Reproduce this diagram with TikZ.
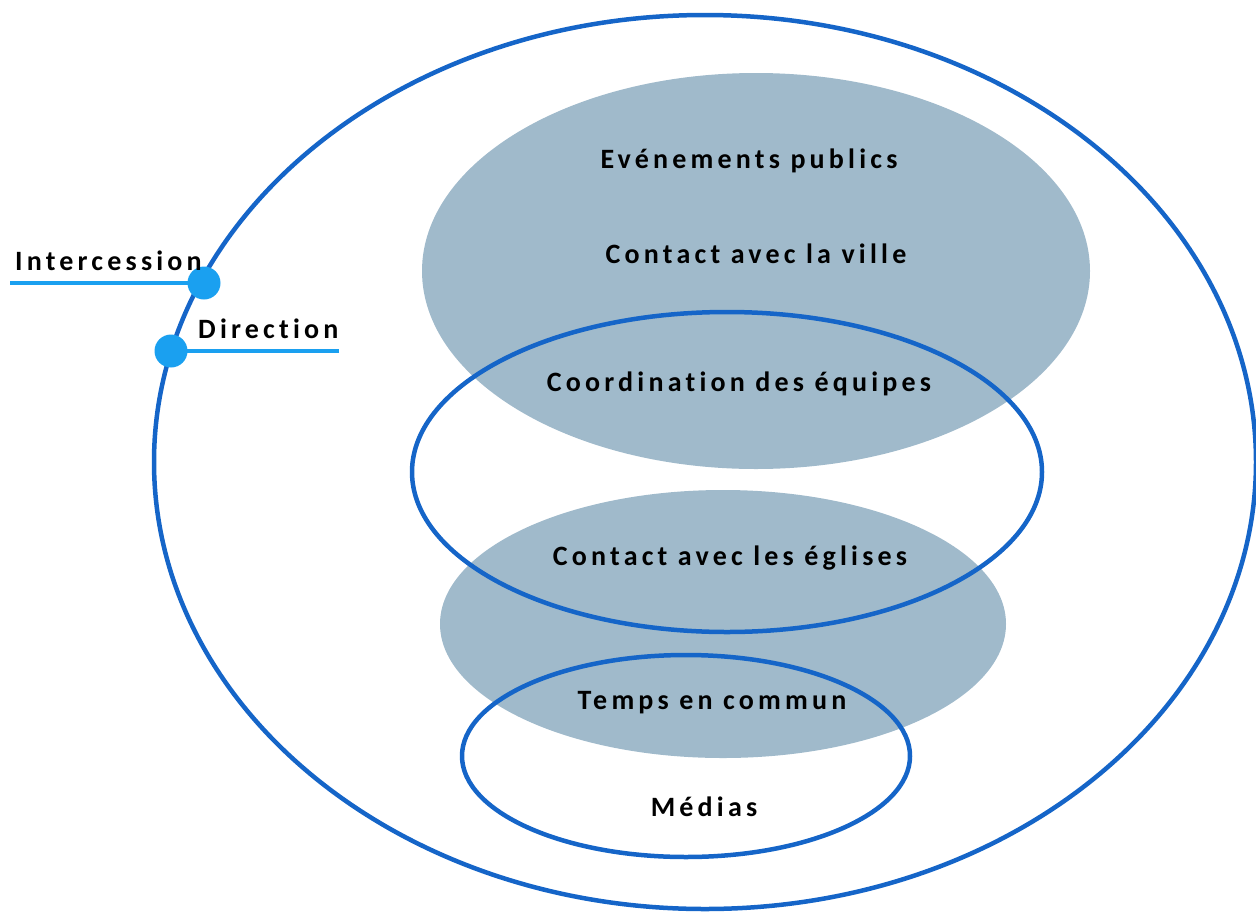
\documentclass[tikz,border=0pt]{standalone}
\usepackage{fontspec}
\newfontfamily\lblfont[LetterSpace=15, Ligatures=NoCommon]{Carlito}
\usetikzlibrary{shapes.geometric}
\definecolor{ringblue}{RGB}{21,101,200}
\definecolor{markblue}{RGB}{26,160,240}
\definecolor{zonefill}{RGB}{160,186,203}
\tikzset{
  ring/.style={draw=ringblue, line width=4.5pt},
  zone/.style={fill=zonefill},
  lbl/.style={font=\lblfont\bfseries\fontsize{28}{32}\selectfont, text=black, inner sep=0pt},
  pin/.style={circle, fill=markblue, minimum size=33pt, inner sep=0pt},
  pinline/.style={draw=markblue, line width=4.5pt}
}
\begin{document}
\begin{tikzpicture}[x=1pt, y=-1pt]
  \useasboundingbox (0,0) rectangle (1256,911);
  % outer ring
  \begin{scope}
    \clip (0,0) rectangle (1256,911);
    \draw[ring] (705,462) ellipse [x radius=551, y radius=447];
  \end{scope}
  % filled zones
  \fill[zone] (756,271) ellipse [x radius=334, y radius=198];
  \fill[zone] (723,624) ellipse [x radius=283, y radius=134];
  % outlined zones
  \draw[ring] (727,472) ellipse [x radius=315, y radius=160];
  \draw[ring] (686,756) ellipse [x radius=224, y radius=101];

  % labels in the zones
  \node[lbl] (events) at (749,161) {Evénements publics};
  \node[lbl] (city) at (756,254) {Contact avec la ville};
  \node[lbl] (teams) at (739,384) {Coordination des équipes};
  \node[lbl] (churches) at (730,558) {Contact avec les églises};
  \node[lbl] (together) at (712,703) {Temps en commun};
  \node[lbl] (media) at (704,807) {Médias};

  % markers on the outer ring
  \coordinate (intend) at (10,283);
  \coordinate (dirend) at (339,351);
  \draw[pinline] (intend) -- (204,283) node[pin] (intpin) {};
  \draw[pinline] (dirend) -- (171,351) node[pin] (dirpin) {};
  \node[lbl, anchor=base west] (interc) at (15,270) {Intercession};
  \node[lbl, anchor=base west] (direct) at (198,338) {Direction};
\end{tikzpicture}
\end{document}
